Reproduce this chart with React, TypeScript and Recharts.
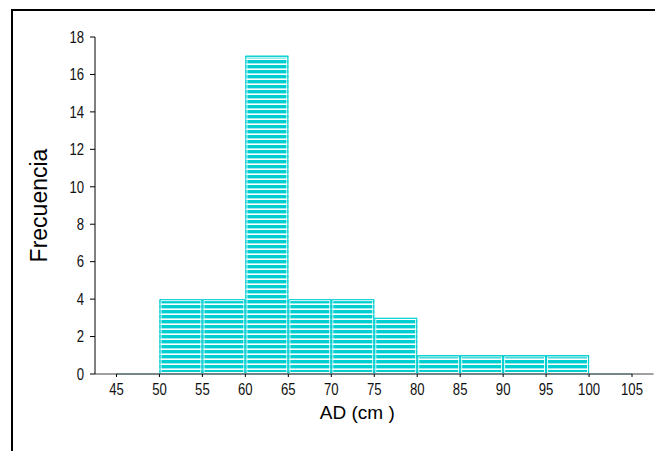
import React from 'react'
import { BarChart, Bar, XAxis, YAxis, ReferenceLine } from 'recharts'

const binStarts = [45, 50, 55, 60, 65, 70, 75, 80, 85, 90, 95, 100]
const binWidth = 5
const frequencies = [0, 4, 4, 17, 4, 4, 3, 1, 1, 1, 1, 0]
const xTicks = [45, 50, 55, 60, 65, 70, 75, 80, 85, 90, 95, 100, 105]
const yTicks = [0, 2, 4, 6, 8, 10, 12, 14, 16, 18]

const CYAN = '#00CED1'
const TEAL = '#267373'
const FONT = 'Arial, "Liberation Sans", sans-serif'

const data = binStarts.map((s, i) => ({ mid: s + binWidth / 2, freq: frequencies[i] }))

// tick labels in the picture are tall and narrow, so squeeze them a bit
function XTick(props: any) {
  const { x, y, payload } = props
  return (
    <text transform={`translate(${x},${y}) scale(0.82,1)`} textAnchor="middle" dy="0.75em" fontFamily={FONT} fontSize={16} fill="#111">
      {payload.value}
    </text>
  )
}

function YTick(props: any) {
  const { x, y, payload } = props
  return (
    <text transform={`translate(${x},${y}) scale(0.82,1)`} textAnchor="end" dy="0.36em" fontFamily={FONT} fontSize={16} fill="#111">
      {payload.value}
    </text>
  )
}

function StripedBar(props: any) {
  const { x, y, width, height } = props
  if (!height || height <= 0) return null
  return (
    <g>
      <rect x={x} y={y} width={width} height={height} fill="url(#hstripes)" />
      <rect x={x + 1.5} y={y + 1.5} width={width - 3} height={height - 3} fill="none" stroke="#fff" strokeWidth={1} />
      <rect x={x + 0.5} y={y + 0.5} width={width - 1} height={height - 1} fill="none" stroke={CYAN} strokeWidth={1} />
    </g>
  )
}

export default function App() {
  return (
    <div style={{ position: 'absolute', left: 0, top: 0, width: 655, height: 451, overflow: 'hidden', background: '#fff' }}>
      <svg width={655} height={451} style={{ position: 'absolute', left: 0, top: 0 }}>
        <path d="M12,460 V10 H700" fill="none" stroke="#000" strokeWidth={2} />
      </svg>
      <div style={{ position: 'absolute', left: 0, top: 0 }}>
        <BarChart width={655} height={451} data={data} margin={{ top: 37, right: 1.5, bottom: 0, left: 0 }} barCategoryGap={0} barGap={0}>
          <defs>
            <pattern id="hstripes" patternUnits="userSpaceOnUse" width={8} height={5}>
              <rect x={0} y={0} width={8} height={5} fill="#fff" />
              <rect x={0} y={0} width={8} height={3.4} fill={CYAN} />
            </pattern>
          </defs>
          <XAxis
            type="number"
            dataKey="mid"
            domain={[42.5, 107.5]}
            ticks={xTicks}
            allowDataOverflow
            height={77}
            axisLine={{ stroke: '#808080', strokeWidth: 1.5 }}
            tickLine={{ stroke: '#000' }}
            tickSize={3}
            tickMargin={6}
            tick={XTick}
            label={{ value: 'AD (cm )', position: 'center', dx: -17, dy: 0, style: { fontFamily: FONT, fontSize: 19, fill: '#000' } }}
          />
          <YAxis
            type="number"
            domain={[0, 18]}
            ticks={yTicks}
            width={95}
            axisLine={{ stroke: '#000' }}
            tickLine={{ stroke: '#000' }}
            tickSize={5}
            tickMargin={6}
            tick={YTick}
            label={{ value: 'Frecuencia', angle: -90, position: 'center', dx: -9, style: { fontFamily: FONT, fontSize: 23, fill: '#000', textAnchor: 'middle' } }}
          />
          <Bar dataKey="freq" shape={StripedBar} isAnimationActive={false} />
          <ReferenceLine
            segment={[{ x: binStarts[0], y: 0 }, { x: binStarts[binStarts.length - 1] + binWidth, y: 0 }]}
            stroke={TEAL}
            strokeWidth={1.5}
            ifOverflow="visible"
          />
        </BarChart>
      </div>
    </div>
  )
}
